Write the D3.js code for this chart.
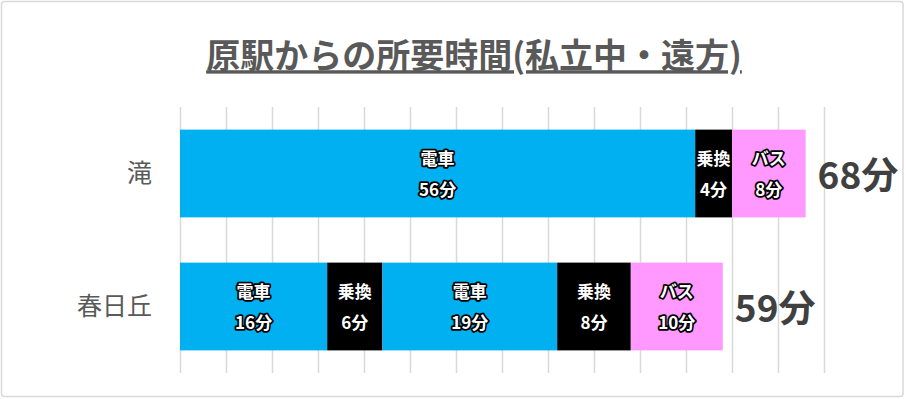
<!DOCTYPE html>
<html>
<head>
<meta charset="utf-8">
<script src="https://cdn.jsdelivr.net/npm/d3@7"></script>
<style>
  body { margin: 0; background: #fff; }
  svg { display: block; font-family: "Noto Sans CJK JP", "Noto Sans", sans-serif; }
</style>
</head>
<body>
<div id="chart-area"></div>
<script>
// chart values
const titleText = "原駅からの所要時間(私立中・遠方)";
const stations = ["滝", "春日丘"];
const takiModes = ["電車", "乗換", "バス"];
const takiMinutes = [56, 4, 8];
const kasugaokaModes = ["電車", "乗換", "電車", "乗換", "バス"];
const kasugaokaMinutes = [16, 6, 19, 8, 10];
const modeNames = ["電車", "乗換", "バス"];
const modeColors = ["#00B0F0", "#000000", "#FF99FF"];

let width = 906, height = 399;
let margin = {top: 107, right: 82, bottom: 26, left: 180};

// stacked segments per station
let routes = [
  {station: stations[0], modes: takiModes, minutes: takiMinutes},
  {station: stations[1], modes: kasugaokaModes, minutes: kasugaokaMinutes}
];
routes.forEach(r => {
  let acc = 0;
  r.segs = r.modes.map((m, i) => {
    let s = {station: r.station, mode: m, min: r.minutes[i], x0: acc, x1: acc + r.minutes[i]};
    acc += r.minutes[i];
    return s;
  });
  r.total = acc;
});

let svg = d3.select("#chart-area").append("svg")
  .attr("width", width)
  .attr("height", height);

// outer frame
svg.append("rect")
  .attr("x", 1.5).attr("y", 1.5)
  .attr("width", width - 4.5).attr("height", height - 4)
  .attr("rx", 3)
  .attr("fill", "#fff")
  .attr("stroke", "#D9D9D9")
  .attr("stroke-width", 1.5);

let x = d3.scaleLinear()
  .domain([0, 70])
  .range([margin.left, width - margin.right]);

let y = d3.scaleBand()
  .domain(stations)
  .range([margin.top, height - margin.bottom])
  .paddingInner(0.34)
  .paddingOuter(0.17);

let color = d3.scaleOrdinal().domain(modeNames).range(modeColors);

// gridlines
svg.append("g")
  .attr("class", "grid")
  .attr("transform", "translate(0," + margin.top + ")")
  .call(d3.axisBottom(x).tickValues(d3.range(0, 71, 5)).tickSize(height - margin.bottom - margin.top).tickFormat(""))
  .call(g => g.select(".domain").remove())
  .call(g => g.selectAll("line").attr("stroke", "#D9D9D9").attr("stroke-width", 1.5));

// category labels
svg.append("g")
  .attr("transform", "translate(" + (margin.left - 28) + ",0)")
  .call(d3.axisLeft(y).tickSize(0).tickPadding(0))
  .call(g => g.select(".domain").remove())
  .call(g => g.selectAll("text")
    .attr("font-size", 25)
    .attr("fill", "#595959")
    .style("font-family", "'Noto Sans CJK JP', sans-serif"));

// bars
let segs = routes.flatMap(r => r.segs);
svg.selectAll("rect.seg")
  .data(segs)
  .enter()
  .append("rect")
  .attr("class", "seg")
  .attr("x", d => x(d.x0))
  .attr("width", d => x(d.x1) - x(d.x0))
  .attr("y", d => y(d.station))
  .attr("height", y.bandwidth())
  .attr("fill", d => color(d.mode));

// segment labels
let lab = svg.selectAll("g.lab")
  .data(segs)
  .enter()
  .append("g")
  .attr("class", "lab")
  .attr("transform", d => "translate(" + x((d.x0 + d.x1) / 2) + "," + (y(d.station) + y.bandwidth() / 2) + ")");

[[d => d.mode, -15], [d => d.min + "分", 16]].forEach(([fn, dy]) => {
  lab.append("text")
    .attr("y", dy)
    .attr("dy", "0.36em")
    .attr("text-anchor", "middle")
    .attr("font-size", 17)
    .attr("font-weight", "bold")
    .attr("fill", "#fff")
    .attr("stroke", "#000")
    .attr("stroke-width", 3.5)
    .attr("stroke-linejoin", "round")
    .attr("paint-order", "stroke")
    .text(fn);
});

// totals
svg.selectAll("text.total")
  .data(routes)
  .enter()
  .append("text")
  .attr("class", "total")
  .attr("x", d => x(d.total) + 12)
  .attr("y", d => y(d.station) + y.bandwidth() / 2 + 2)
  .attr("dy", "0.36em")
  .attr("font-size", 37)
  .attr("font-weight", "bold")
  .attr("fill", "#404040")
  .text(d => d.total + "分");

// title
svg.append("text")
  .attr("x", 474)
  .attr("y", 56)
  .attr("dy", "0.36em")
  .attr("text-anchor", "middle")
  .attr("font-size", 34)
  .attr("font-weight", "bold")
  .attr("fill", "#595959")
  .style("text-decoration", "underline")
  .text(titleText);
</script>
</body>
</html>
